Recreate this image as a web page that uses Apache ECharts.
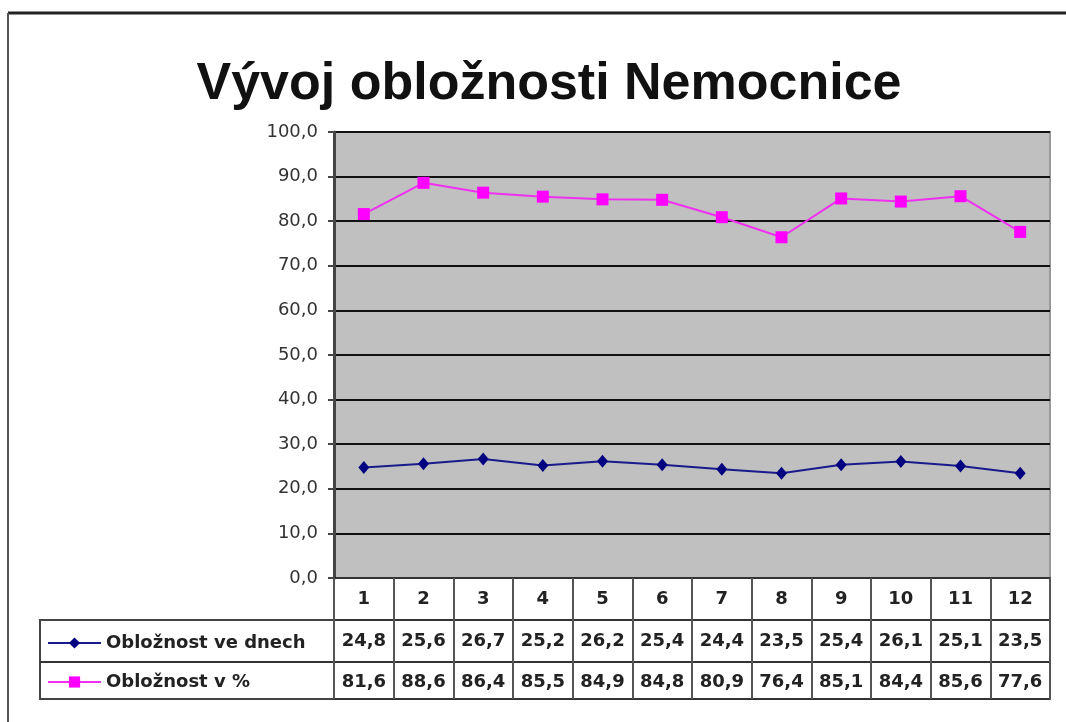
<!DOCTYPE html>
<html>
<head>
<meta charset="utf-8">
<script src="https://cdn.jsdelivr.net/npm/echarts@6/dist/echarts.min.js"></script>
<style>
  html, body { margin: 0; padding: 0; background: #fff; }
  #chart { width: 1066px; height: 722px; }
</style>
</head>
<body>
<div id="chart"></div>
<script>
// months 1..12
var months = ['1', '2', '3', '4', '5', '6', '7', '8', '9', '10', '11', '12'];
var dnech = [24.8, 25.6, 26.7, 25.2, 26.2, 25.4, 24.4, 23.5, 25.4, 26.1, 25.1, 23.5];
var procenta = [81.6, 88.6, 86.4, 85.5, 84.9, 84.8, 80.9, 76.4, 85.1, 84.4, 85.6, 77.6];
var nameDnech = 'Obložnost ve dnech';
var nameProc = 'Obložnost v %';

function fmt(v) {
    return v.toFixed(1).replace('.', ',');
}

var tableFont = 'DejaVu Sans, Verdana, sans-serif';

// one x axis per table row, the ticks draw the cell borders
function rowAxis(offset, height, values, margin, showLabel) {
    return {
        type: 'category',
        data: months,
        position: 'bottom',
        offset: offset,
        boundaryGap: true,
        axisLine: { show: true, lineStyle: { color: '#333', width: 2 } },
        axisTick: { show: height > 0, length: height, lineStyle: { color: '#555', width: 2 } },
        axisLabel: {
            show: showLabel,
            margin: margin,
            interval: 0,
            fontFamily: tableFont,
            fontWeight: 'bold',
            fontSize: 18,
            lineHeight: 18,
            color: '#222',
            formatter: function (val, idx) {
                return values ? fmt(values[idx]) : val;
            }
        },
        splitLine: { show: false }
    };
}

var chart = echarts.init(document.getElementById('chart'));
var option = {
    animation: false,
    backgroundColor: '#fff',
    title: {
        text: 'Vývoj obložnosti Nemocnice',
        left: 544,
        top: 54,
        textAlign: 'center',
        textStyle: {
            fontFamily: 'Liberation Sans, Arial, sans-serif',
            fontWeight: 'bold',
            fontSize: 52,
            color: '#111'
        }
    },
    legend: {
        orient: 'vertical',
        left: 47,
        top: 634,
        padding: 0,
        itemWidth: 53,
        itemHeight: 14,
        itemGap: 21,
        textStyle: {
            fontFamily: tableFont,
            fontWeight: 'bold',
            fontSize: 18,
            lineHeight: 18,
            color: '#222'
        },
        data: [nameDnech, nameProc]
    },
    grid: {
        left: 334,
        right: 16,
        top: 132,
        bottom: 144,
        show: true,
        backgroundColor: '#c0c0c0',
        borderColor: '#999',
        borderWidth: 2
    },
    xAxis: [
        rowAxis(0, 42, null, 12, true),
        rowAxis(42, 42, dnech, 12, true),
        rowAxis(84, 37, procenta, 11, true),
        rowAxis(121, 0, null, 0, false)
    ],
    yAxis: {
        type: 'value',
        min: 0,
        max: 100,
        interval: 10,
        axisLine: { show: true, lineStyle: { color: '#444', width: 3 } },
        axisTick: { show: true, length: 6, lineStyle: { color: '#444', width: 2 } },
        axisLabel: {
            margin: 16,
            fontFamily: tableFont,
            fontSize: 18,
            color: '#333',
            formatter: function (v) { return fmt(v); }
        },
        splitLine: { show: true, lineStyle: { color: '#111', width: 2 } }
    },
    series: [
        {
            name: nameDnech,
            type: 'line',
            data: dnech,
            symbol: 'diamond',
            symbolSize: [11, 13],
            itemStyle: { color: '#000080' },
            lineStyle: { color: '#1a1a8c', width: 2 }
        },
        {
            name: nameProc,
            type: 'line',
            data: procenta,
            symbol: 'rect',
            symbolSize: 12,
            itemStyle: { color: '#ff00ff' },
            lineStyle: { color: '#f030f0', width: 2 }
        }
    ],
    graphic: [
        // outer frame
        { type: 'line', shape: { x1: 8, y1: 13, x2: 1066, y2: 13 }, style: { stroke: '#222', lineWidth: 3 } },
        { type: 'line', shape: { x1: 8, y1: 13, x2: 8, y2: 722 }, style: { stroke: '#555', lineWidth: 2 } },
        // legend cells of the data table
        { type: 'rect', shape: { x: 40, y: 620, width: 294, height: 79 }, style: { fill: 'none', stroke: '#444', lineWidth: 2 }, z: -1 },
        { type: 'line', shape: { x1: 40, y1: 662, x2: 334, y2: 662 }, style: { stroke: '#333', lineWidth: 2 } }
    ]
};
chart.setOption(option);
</script>
</body>
</html>
